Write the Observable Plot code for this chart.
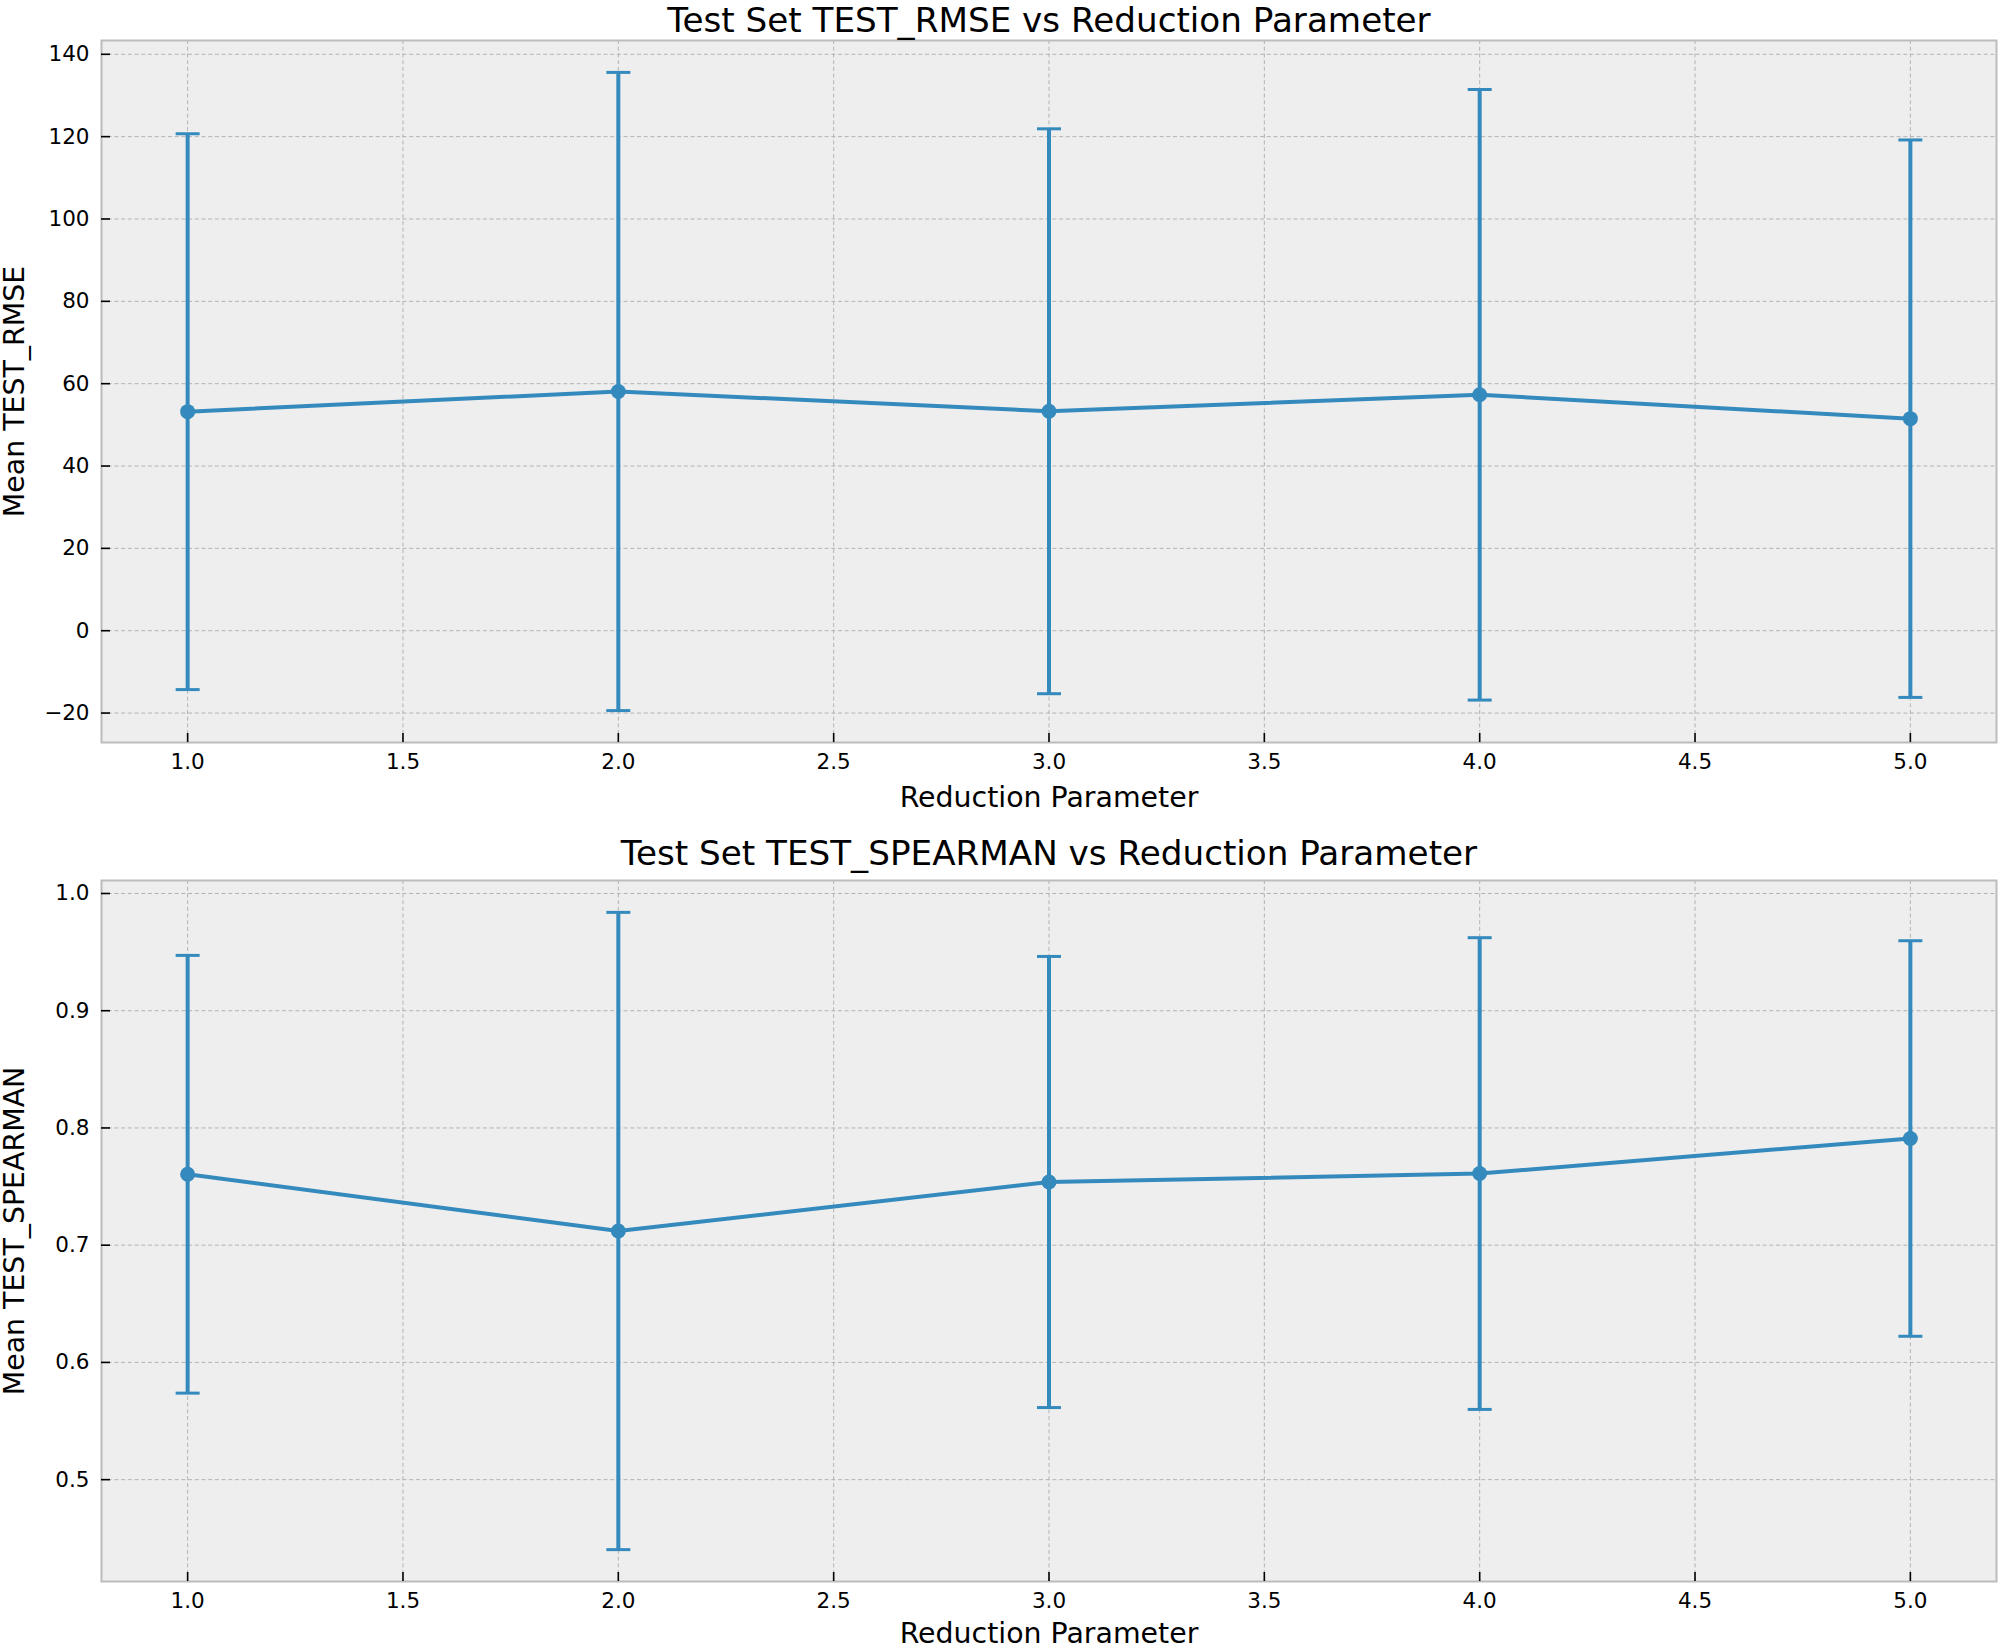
<!DOCTYPE html>
<html>
<head>
<meta charset="utf-8">
<script src="https://cdn.jsdelivr.net/npm/d3@7"></script>
<script src="https://cdn.jsdelivr.net/npm/@observablehq/plot@0.6"></script>
<style>
  html, body { margin: 0; padding: 0; background: #ffffff; }
  #chart svg { display: block; }
</style>
</head>
<body>
<div id="chart"></div>
<script>
// ---- Data ----
const reductionParams = [1, 2, 3, 4, 5];
const rmseMean = [53.2, 58.1, 53.3, 57.3, 51.5];
const rmseStd = [67.5, 77.5, 68.6, 74.15, 67.7];
const spearmanMean = [0.7605, 0.7121, 0.7539, 0.7611, 0.7910];
const spearmanStd = [0.1867, 0.2718, 0.1924, 0.2012, 0.1687];

const xTicks = [1.0, 1.5, 2.0, 2.5, 3.0, 3.5, 4.0, 4.5, 5.0];
const rmseTicks = [-20, 0, 20, 40, 60, 80, 100, 120, 140];
const spearmanTicks = [0.5, 0.6, 0.7, 0.8, 0.9, 1.0];

const rmseTitle = "Test Set TEST_RMSE vs Reduction Parameter";
const spearmanTitle = "Test Set TEST_SPEARMAN vs Reduction Parameter";
const rmseYLabel = "Mean TEST_RMSE";
const spearmanYLabel = "Mean TEST_SPEARMAN";
const xLabel = "Reduction Parameter";

// ---- Styling ----
const COLOR = "#348ABD";
const FONT = "DejaVu Sans";
const W = 2000, ML = 101, MR = 4;

const capSymbol = {
  draw(ctx, size) {
    const r = Math.sqrt(size / Math.PI);
    ctx.moveTo(-r, 0);
    ctx.lineTo(r, 0);
  }
};

function padDomain(lo, hi) {
  const m = (hi - lo) * 0.05;
  return [lo - m, hi + m];
}

function panel({title, ylabel, means, stds, yTicks, yFormat, height, marginTop, marginBottom, titleDy, xLabelDy}) {
  const rows = reductionParams.map((x, i) => ({
    x, mean: means[i], lo: means[i] - stds[i], hi: means[i] + stds[i]
  }));
  const xDomain = padDomain(d3.min(reductionParams), d3.max(reductionParams));
  const yDomain = padDomain(d3.min(rows, d => d.lo), d3.max(rows, d => d.hi));
  const innerH = height - marginTop - marginBottom;
  const innerW = W - ML - MR;
  const gridStyle = {stroke: "#b3b3b3", strokeOpacity: 1, strokeWidth: 1, strokeDasharray: "4,2.7"};
  return Plot.plot({
    width: W,
    height,
    marginLeft: ML,
    marginRight: MR,
    marginTop,
    marginBottom,
    style: {fontFamily: FONT, fontSize: "21.5px", color: "#000", background: "#ffffff", overflow: "visible"},
    x: {domain: xDomain},
    y: {domain: yDomain},
    marks: [
      Plot.frame({fill: "#eeeeee"}),
      Plot.gridX(xTicks, gridStyle),
      Plot.gridY(yTicks, gridStyle),
      Plot.frame({stroke: "#bcbcbc", strokeWidth: 2}),
      Plot.tickX(xTicks, {x: d => d, insetTop: innerH - 9, stroke: "#000", strokeWidth: 1.6}),
      Plot.tickY(yTicks, {y: d => d, insetRight: innerW - 9, stroke: "#000", strokeWidth: 1.6}),
      Plot.axisX(xTicks, {tickSize: 0, tickPadding: 11, tickFormat: d3.format(".1f"), label: null, fill: "#000"}),
      Plot.axisY(yTicks, {tickSize: 0, tickPadding: 12, tickFormat: yFormat, label: null, fill: "#000"}),
      Plot.ruleX(rows, {x: "x", y1: "lo", y2: "hi", stroke: COLOR, strokeWidth: 4}),
      Plot.dot(rows, {x: "x", y: "lo", symbol: capSymbol, r: 12, stroke: COLOR, strokeWidth: 3, fill: "none"}),
      Plot.dot(rows, {x: "x", y: "hi", symbol: capSymbol, r: 12, stroke: COLOR, strokeWidth: 3, fill: "none"}),
      Plot.line(rows, {x: "x", y: "mean", stroke: COLOR, strokeWidth: 4}),
      Plot.dot(rows, {x: "x", y: "mean", r: 7.5, fill: COLOR, stroke: "none"}),
      Plot.text([title], {frameAnchor: "top", textAnchor: "middle", lineAnchor: "middle", dy: titleDy, fontSize: 34.2, text: d => d, fill: "#000"}),
      Plot.text([ylabel], {frameAnchor: "left", textAnchor: "middle", lineAnchor: "middle", rotate: -90, dx: -87, fontSize: 28.4, text: d => d, fill: "#000"}),
      Plot.text([xLabel], {frameAnchor: "bottom", textAnchor: "middle", lineAnchor: "middle", dy: xLabelDy, fontSize: 28.4, text: d => d, fill: "#000"})
    ]
  });
}

const chart = document.getElementById("chart");
chart.appendChild(panel({
  title: rmseTitle, ylabel: rmseYLabel, means: rmseMean, stds: rmseStd,
  yTicks: rmseTicks, yFormat: d3.format("d"),
  height: 820, marginTop: 40, marginBottom: 78, titleDy: -19.5, xLabelDy: 55
}));
chart.appendChild(panel({
  title: spearmanTitle, ylabel: spearmanYLabel, means: spearmanMean, stds: spearmanStd,
  yTicks: spearmanTicks, yFormat: d3.format(".1f"),
  height: 829, marginTop: 60, marginBottom: 68, titleDy: -26.7, xLabelDy: 52
}));
</script>
</body>
</html>
